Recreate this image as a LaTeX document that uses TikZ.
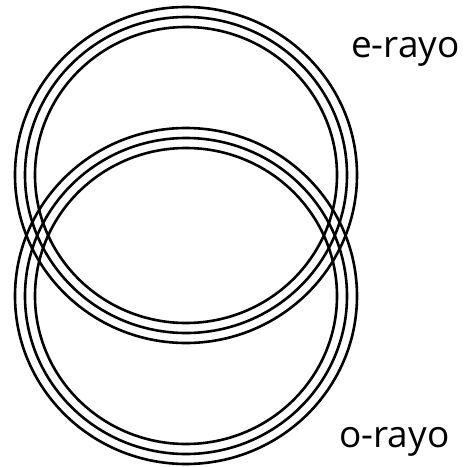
\documentclass[tikz,border=0pt]{standalone}
\usepackage{fontspec}
\setmainfont{Open Sans}
\begin{document}
\begin{tikzpicture}[x=1pt,y=-1pt,
  ring/.style={line width=2.6pt, draw=black},
  lbl/.style={font=\fontsize{37}{37}\selectfont, inner sep=0pt, anchor=base west}]
\useasboundingbox (0,0) rectangle (466,467);
\coordinate (ce) at (186,175);
\coordinate (co) at (186,296);
\foreach \r in {148,158,168} {
  \draw[ring] (ce) ellipse[x radius=\r+3, y radius=\r];
  \draw[ring] (co) ellipse[x radius=\r+3, y radius=\r];
}
\node[lbl] (e) at (351,57) {e-rayo};
\node[lbl] (o) at (339,447) {o-rayo};
\end{tikzpicture}
\end{document}
